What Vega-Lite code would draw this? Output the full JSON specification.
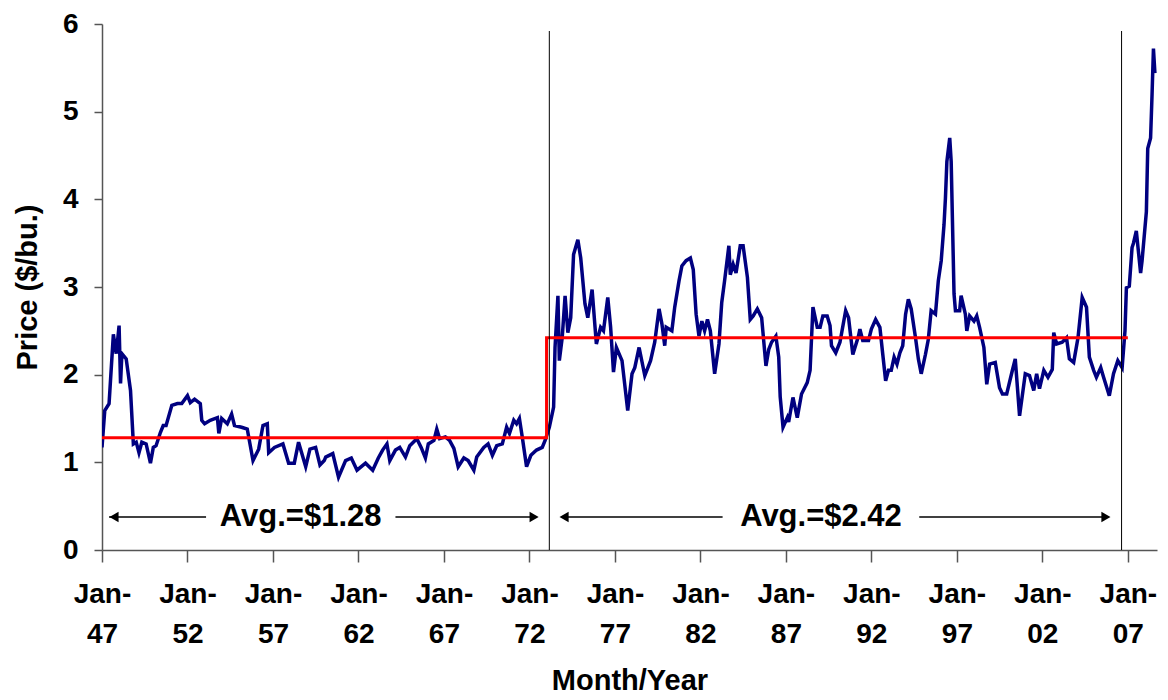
{
  "$schema": "https://vega.github.io/schema/vega-lite/v6.json",
  "width": 1055,
  "height": 526,
  "autosize": {"type": "none"},
  "padding": {"left": 102, "top": 24, "right": 11, "bottom": 150},
  "background": "white",
  "config": {
    "view": {"stroke": null},
    "font": "Liberation Sans"
  },
  "datasets": {
    "price": [
      {"date": "1947-01-01", "value": 1.17},
      {"date": "1947-03-01", "value": 1.59},
      {"date": "1947-06-01", "value": 1.67},
      {"date": "1947-07-01", "value": 1.93},
      {"date": "1947-09-01", "value": 2.46},
      {"date": "1947-11-01", "value": 2.24},
      {"date": "1948-01-01", "value": 2.56},
      {"date": "1948-02-01", "value": 1.90},
      {"date": "1948-03-01", "value": 2.24},
      {"date": "1948-06-01", "value": 2.18},
      {"date": "1948-09-01", "value": 1.82},
      {"date": "1948-11-01", "value": 1.21},
      {"date": "1949-01-01", "value": 1.23},
      {"date": "1949-03-01", "value": 1.11},
      {"date": "1949-05-01", "value": 1.23},
      {"date": "1949-08-01", "value": 1.21},
      {"date": "1949-11-01", "value": 0.99},
      {"date": "1950-01-01", "value": 1.17},
      {"date": "1950-03-01", "value": 1.19},
      {"date": "1950-06-01", "value": 1.34},
      {"date": "1950-08-01", "value": 1.42},
      {"date": "1950-10-01", "value": 1.42},
      {"date": "1951-02-01", "value": 1.65},
      {"date": "1951-06-01", "value": 1.67},
      {"date": "1951-09-01", "value": 1.67},
      {"date": "1952-01-01", "value": 1.76},
      {"date": "1952-03-01", "value": 1.68},
      {"date": "1952-06-01", "value": 1.72},
      {"date": "1952-10-01", "value": 1.67},
      {"date": "1952-11-01", "value": 1.48},
      {"date": "1953-01-01", "value": 1.44},
      {"date": "1953-05-01", "value": 1.48},
      {"date": "1953-10-01", "value": 1.51},
      {"date": "1953-11-01", "value": 1.33},
      {"date": "1954-01-01", "value": 1.50},
      {"date": "1954-05-01", "value": 1.44},
      {"date": "1954-08-01", "value": 1.55},
      {"date": "1954-10-01", "value": 1.42},
      {"date": "1955-03-01", "value": 1.40},
      {"date": "1955-07-01", "value": 1.38},
      {"date": "1955-11-01", "value": 1.02},
      {"date": "1956-03-01", "value": 1.15},
      {"date": "1956-06-01", "value": 1.42},
      {"date": "1956-09-01", "value": 1.44},
      {"date": "1956-10-01", "value": 1.11},
      {"date": "1957-02-01", "value": 1.17},
      {"date": "1957-08-01", "value": 1.21},
      {"date": "1957-12-01", "value": 0.99},
      {"date": "1958-04-01", "value": 0.99},
      {"date": "1958-07-01", "value": 1.23},
      {"date": "1958-12-01", "value": 0.95},
      {"date": "1959-03-01", "value": 1.15},
      {"date": "1959-07-01", "value": 1.17},
      {"date": "1959-10-01", "value": 0.97},
      {"date": "1960-01-01", "value": 1.02},
      {"date": "1960-02-01", "value": 1.06},
      {"date": "1960-07-01", "value": 1.10},
      {"date": "1960-11-01", "value": 0.83},
      {"date": "1961-04-01", "value": 1.02},
      {"date": "1961-08-01", "value": 1.05},
      {"date": "1961-12-01", "value": 0.91},
      {"date": "1962-06-01", "value": 0.99},
      {"date": "1962-11-01", "value": 0.91},
      {"date": "1963-03-01", "value": 1.05},
      {"date": "1963-06-01", "value": 1.14},
      {"date": "1963-09-01", "value": 1.21},
      {"date": "1963-11-01", "value": 1.02},
      {"date": "1964-03-01", "value": 1.14},
      {"date": "1964-06-01", "value": 1.17},
      {"date": "1964-10-01", "value": 1.06},
      {"date": "1965-01-01", "value": 1.19},
      {"date": "1965-06-01", "value": 1.27},
      {"date": "1965-09-01", "value": 1.17},
      {"date": "1965-12-01", "value": 1.05},
      {"date": "1966-02-01", "value": 1.21},
      {"date": "1966-06-01", "value": 1.25},
      {"date": "1966-08-01", "value": 1.38},
      {"date": "1966-10-01", "value": 1.27},
      {"date": "1967-02-01", "value": 1.29},
      {"date": "1967-05-01", "value": 1.25},
      {"date": "1967-08-01", "value": 1.16},
      {"date": "1967-11-01", "value": 0.95},
      {"date": "1968-03-01", "value": 1.05},
      {"date": "1968-06-01", "value": 1.02},
      {"date": "1968-10-01", "value": 0.91},
      {"date": "1968-12-01", "value": 1.06},
      {"date": "1969-05-01", "value": 1.17},
      {"date": "1969-08-01", "value": 1.21},
      {"date": "1969-11-01", "value": 1.08},
      {"date": "1970-02-01", "value": 1.19},
      {"date": "1970-06-01", "value": 1.21},
      {"date": "1970-09-01", "value": 1.40},
      {"date": "1970-11-01", "value": 1.33},
      {"date": "1971-02-01", "value": 1.48},
      {"date": "1971-04-01", "value": 1.44},
      {"date": "1971-06-01", "value": 1.50},
      {"date": "1971-08-01", "value": 1.29},
      {"date": "1971-11-01", "value": 0.95},
      {"date": "1972-02-01", "value": 1.08},
      {"date": "1972-06-01", "value": 1.14},
      {"date": "1972-10-01", "value": 1.17},
      {"date": "1972-12-01", "value": 1.25},
      {"date": "1973-03-01", "value": 1.40},
      {"date": "1973-06-01", "value": 1.63},
      {"date": "1973-07-01", "value": 2.31},
      {"date": "1973-09-01", "value": 2.90},
      {"date": "1973-10-01", "value": 2.16},
      {"date": "1973-12-01", "value": 2.42},
      {"date": "1974-02-01", "value": 2.90},
      {"date": "1974-04-01", "value": 2.48},
      {"date": "1974-06-01", "value": 2.65},
      {"date": "1974-08-01", "value": 3.37},
      {"date": "1974-11-01", "value": 3.54},
      {"date": "1975-01-01", "value": 3.33},
      {"date": "1975-04-01", "value": 2.81},
      {"date": "1975-06-01", "value": 2.65},
      {"date": "1975-09-01", "value": 2.97},
      {"date": "1975-12-01", "value": 2.35},
      {"date": "1976-03-01", "value": 2.54},
      {"date": "1976-05-01", "value": 2.50},
      {"date": "1976-08-01", "value": 2.88},
      {"date": "1976-10-01", "value": 2.54},
      {"date": "1976-12-01", "value": 2.03},
      {"date": "1977-02-01", "value": 2.31},
      {"date": "1977-06-01", "value": 2.16},
      {"date": "1977-10-01", "value": 1.59},
      {"date": "1978-01-01", "value": 2.01},
      {"date": "1978-03-01", "value": 2.08},
      {"date": "1978-06-01", "value": 2.31},
      {"date": "1978-10-01", "value": 1.99},
      {"date": "1979-02-01", "value": 2.16},
      {"date": "1979-05-01", "value": 2.37},
      {"date": "1979-08-01", "value": 2.75},
      {"date": "1979-10-01", "value": 2.58},
      {"date": "1979-12-01", "value": 2.33},
      {"date": "1980-01-01", "value": 2.54},
      {"date": "1980-05-01", "value": 2.50},
      {"date": "1980-07-01", "value": 2.77},
      {"date": "1980-10-01", "value": 3.07},
      {"date": "1980-12-01", "value": 3.24},
      {"date": "1981-03-01", "value": 3.30},
      {"date": "1981-06-01", "value": 3.33},
      {"date": "1981-08-01", "value": 3.20},
      {"date": "1981-10-01", "value": 2.69},
      {"date": "1981-12-01", "value": 2.44},
      {"date": "1982-02-01", "value": 2.61},
      {"date": "1982-04-01", "value": 2.50},
      {"date": "1982-06-01", "value": 2.63},
      {"date": "1982-08-01", "value": 2.50},
      {"date": "1982-11-01", "value": 2.01},
      {"date": "1983-02-01", "value": 2.35},
      {"date": "1983-04-01", "value": 2.82},
      {"date": "1983-06-01", "value": 3.07},
      {"date": "1983-09-01", "value": 3.47},
      {"date": "1983-10-01", "value": 3.14},
      {"date": "1983-12-01", "value": 3.26},
      {"date": "1984-02-01", "value": 3.16},
      {"date": "1984-05-01", "value": 3.47},
      {"date": "1984-07-01", "value": 3.47},
      {"date": "1984-10-01", "value": 3.11},
      {"date": "1984-12-01", "value": 2.63},
      {"date": "1985-02-01", "value": 2.67},
      {"date": "1985-05-01", "value": 2.75},
      {"date": "1985-08-01", "value": 2.65},
      {"date": "1985-11-01", "value": 2.10},
      {"date": "1986-01-01", "value": 2.29},
      {"date": "1986-03-01", "value": 2.37},
      {"date": "1986-06-01", "value": 2.44},
      {"date": "1986-08-01", "value": 2.20},
      {"date": "1986-09-01", "value": 1.75},
      {"date": "1986-11-01", "value": 1.40},
      {"date": "1987-02-01", "value": 1.51},
      {"date": "1987-03-01", "value": 1.46},
      {"date": "1987-06-01", "value": 1.74},
      {"date": "1987-09-01", "value": 1.51},
      {"date": "1987-12-01", "value": 1.78},
      {"date": "1988-04-01", "value": 1.91},
      {"date": "1988-06-01", "value": 2.05},
      {"date": "1988-08-01", "value": 2.77},
      {"date": "1988-11-01", "value": 2.54},
      {"date": "1989-01-01", "value": 2.54},
      {"date": "1989-03-01", "value": 2.67},
      {"date": "1989-06-01", "value": 2.67},
      {"date": "1989-08-01", "value": 2.56},
      {"date": "1989-09-01", "value": 2.33},
      {"date": "1989-12-01", "value": 2.25},
      {"date": "1990-03-01", "value": 2.37},
      {"date": "1990-07-01", "value": 2.73},
      {"date": "1990-09-01", "value": 2.65},
      {"date": "1990-12-01", "value": 2.23},
      {"date": "1991-04-01", "value": 2.44},
      {"date": "1991-05-01", "value": 2.52},
      {"date": "1991-07-01", "value": 2.39},
      {"date": "1991-11-01", "value": 2.39},
      {"date": "1992-01-01", "value": 2.52},
      {"date": "1992-04-01", "value": 2.63},
      {"date": "1992-07-01", "value": 2.54},
      {"date": "1992-09-01", "value": 2.23},
      {"date": "1992-11-01", "value": 1.93},
      {"date": "1993-01-01", "value": 2.05},
      {"date": "1993-03-01", "value": 2.05},
      {"date": "1993-05-01", "value": 2.20},
      {"date": "1993-07-01", "value": 2.12},
      {"date": "1993-09-01", "value": 2.25},
      {"date": "1993-11-01", "value": 2.33},
      {"date": "1994-01-01", "value": 2.69},
      {"date": "1994-03-01", "value": 2.86},
      {"date": "1994-05-01", "value": 2.75},
      {"date": "1994-08-01", "value": 2.42},
      {"date": "1994-10-01", "value": 2.18},
      {"date": "1994-12-01", "value": 2.01},
      {"date": "1995-03-01", "value": 2.23},
      {"date": "1995-05-01", "value": 2.40},
      {"date": "1995-07-01", "value": 2.73},
      {"date": "1995-10-01", "value": 2.69},
      {"date": "1995-12-01", "value": 3.07},
      {"date": "1996-02-01", "value": 3.30},
      {"date": "1996-04-01", "value": 3.71},
      {"date": "1996-05-01", "value": 4.01},
      {"date": "1996-06-01", "value": 4.43},
      {"date": "1996-08-01", "value": 4.70},
      {"date": "1996-09-01", "value": 4.43},
      {"date": "1996-11-01", "value": 2.92},
      {"date": "1996-12-01", "value": 2.73},
      {"date": "1997-03-01", "value": 2.73},
      {"date": "1997-04-01", "value": 2.90},
      {"date": "1997-07-01", "value": 2.69},
      {"date": "1997-08-01", "value": 2.50},
      {"date": "1997-10-01", "value": 2.67},
      {"date": "1998-01-01", "value": 2.61},
      {"date": "1998-03-01", "value": 2.67},
      {"date": "1998-05-01", "value": 2.54},
      {"date": "1998-08-01", "value": 2.31},
      {"date": "1998-10-01", "value": 1.89},
      {"date": "1998-12-01", "value": 2.12},
      {"date": "1999-04-01", "value": 2.14},
      {"date": "1999-07-01", "value": 1.85},
      {"date": "1999-09-01", "value": 1.78},
      {"date": "1999-12-01", "value": 1.78},
      {"date": "2000-04-01", "value": 2.05},
      {"date": "2000-06-01", "value": 2.18},
      {"date": "2000-09-01", "value": 1.53},
      {"date": "2001-01-01", "value": 2.01},
      {"date": "2001-04-01", "value": 1.99},
      {"date": "2001-07-01", "value": 1.82},
      {"date": "2001-09-01", "value": 2.01},
      {"date": "2001-11-01", "value": 1.84},
      {"date": "2002-02-01", "value": 2.05},
      {"date": "2002-05-01", "value": 1.97},
      {"date": "2002-08-01", "value": 2.06},
      {"date": "2002-09-01", "value": 2.48},
      {"date": "2002-11-01", "value": 2.35},
      {"date": "2003-03-01", "value": 2.37},
      {"date": "2003-06-01", "value": 2.42},
      {"date": "2003-08-01", "value": 2.18},
      {"date": "2003-11-01", "value": 2.14},
      {"date": "2004-02-01", "value": 2.42},
      {"date": "2004-05-01", "value": 2.88},
      {"date": "2004-08-01", "value": 2.77},
      {"date": "2004-10-01", "value": 2.20},
      {"date": "2005-01-01", "value": 2.05},
      {"date": "2005-03-01", "value": 1.97},
      {"date": "2005-06-01", "value": 2.08},
      {"date": "2005-08-01", "value": 1.97},
      {"date": "2005-12-01", "value": 1.76},
      {"date": "2006-03-01", "value": 2.01},
      {"date": "2006-06-01", "value": 2.16},
      {"date": "2006-09-01", "value": 2.08},
      {"date": "2006-11-01", "value": 2.50},
      {"date": "2006-12-01", "value": 2.99},
      {"date": "2007-02-01", "value": 3.01},
      {"date": "2007-04-01", "value": 3.45},
      {"date": "2007-05-01", "value": 3.50},
      {"date": "2007-07-01", "value": 3.64},
      {"date": "2007-10-01", "value": 3.16},
      {"date": "2007-11-01", "value": 3.30},
      {"date": "2008-02-01", "value": 3.86},
      {"date": "2008-03-01", "value": 4.58},
      {"date": "2008-05-01", "value": 4.70},
      {"date": "2008-06-01", "value": 5.19},
      {"date": "2008-07-01", "value": 5.72},
      {"date": "2008-08-01", "value": 5.44}
    ],
    "avg": [
      {"date": "1947-01-01", "value": 1.28},
      {"date": "1973-01-01", "value": 2.42},
      {"date": "2007-01-01", "value": 2.42}
    ],
    "dividers": [
      {"date": "1973-03-01", "lo": 0, "hi": 5.92},
      {"date": "2006-08-20", "lo": 0, "hi": 5.92}
    ],
    "arrowLines": [
      {"date": "1947-06-01", "date2": "1953-02-01", "value": 0.376},
      {"date": "1964-03-01", "date2": "1972-05-01", "value": 0.376},
      {"date": "1974-02-01", "date2": "1983-04-20", "value": 0.376},
      {"date": "1994-10-20", "date2": "2005-09-20", "value": 0.376}
    ],
    "arrowHeads": [
      {"date": "1947-09-15", "value": 0.376, "dir": "triangle-left"},
      {"date": "1972-04-10", "value": 0.376, "dir": "triangle-right"},
      {"date": "1974-01-10", "value": 0.376, "dir": "triangle-left"},
      {"date": "2005-09-20", "value": 0.376, "dir": "triangle-right"}
    ],
    "labels": [
      {"date": "1958-08-15", "value": 0.376, "label": "Avg.=$1.28"},
      {"date": "1989-01-20", "value": 0.376, "label": "Avg.=$2.42"}
    ]
  },
  "layer": [
    {
      "data": {"name": "price"},
      "mark": {"type": "line", "color": "#000080", "strokeWidth": 3.5, "clip": true},
      "encoding": {
        "x": {
          "field": "date", "type": "temporal",
          "scale": {"type": "utc", "domain": [{"year": 1947, "month": 1, "date": 1, "utc": true}, {"year": 2008, "month": 9, "date": 15, "utc": true}]},
          "axis": {
            "title": "Month/Year",
            "titleFont": "Liberation Sans", "titleFontSize": 29, "titleFontWeight": "bold", "titleColor": "black", "titlePadding": 18,
            "values": [
              {"year": 1947, "month": 1, "date": 1, "utc": true},
              {"year": 1952, "month": 1, "date": 1, "utc": true},
              {"year": 1957, "month": 1, "date": 1, "utc": true},
              {"year": 1962, "month": 1, "date": 1, "utc": true},
              {"year": 1967, "month": 1, "date": 1, "utc": true},
              {"year": 1972, "month": 1, "date": 1, "utc": true},
              {"year": 1977, "month": 1, "date": 1, "utc": true},
              {"year": 1982, "month": 1, "date": 1, "utc": true},
              {"year": 1987, "month": 1, "date": 1, "utc": true},
              {"year": 1992, "month": 1, "date": 1, "utc": true},
              {"year": 1997, "month": 1, "date": 1, "utc": true},
              {"year": 2002, "month": 1, "date": 1, "utc": true},
              {"year": 2007, "month": 1, "date": 1, "utc": true}
            ],
            "labelExpr": "['Jan-', utcFormat(datum.value, '%y')]",
            "labelFont": "Liberation Sans", "labelFontSize": 28, "labelFontWeight": "bold", "labelColor": "black",
            "labelLineHeight": 40, "labelPadding": 18, "labelOverlap": false, "labelFlush": false,
            "grid": false, "domainColor": "#555555", "domainWidth": 1.5, "tickColor": "#555555", "tickWidth": 1.5, "tickSize": 12
          }
        },
        "y": {
          "field": "value", "type": "quantitative",
          "scale": {"domain": [0, 6], "nice": false, "zero": true},
          "axis": {
            "title": "Price ($/bu.)",
            "titleFont": "Liberation Sans", "titleFontSize": 29, "titleFontWeight": "bold", "titleColor": "black", "titlePadding": 20,
            "values": [0, 1, 2, 3, 4, 5, 6], "format": "d",
            "labelFont": "Liberation Sans", "labelFontSize": 28, "labelFontWeight": "bold", "labelColor": "black", "labelPadding": 16,
            "grid": false, "domainColor": "#555555", "domainWidth": 1.5, "tickColor": "#555555", "tickWidth": 1.5, "tickSize": 8
          }
        }
      }
    },
    {
      "data": {"name": "avg"},
      "mark": {"type": "line", "color": "#ff0000", "strokeWidth": 3, "interpolate": "step-after"},
      "encoding": {
        "x": {"field": "date", "type": "temporal"},
        "y": {"field": "value", "type": "quantitative"}
      }
    },
    {
      "data": {"name": "dividers"},
      "mark": {"type": "rule", "color": "black", "strokeWidth": 1},
      "encoding": {
        "x": {"field": "date", "type": "temporal"},
        "y": {"field": "lo", "type": "quantitative"},
        "y2": {"field": "hi"}
      }
    },
    {
      "data": {"name": "arrowLines"},
      "mark": {"type": "rule", "color": "black", "strokeWidth": 1.5},
      "encoding": {
        "x": {"field": "date", "type": "temporal"},
        "x2": {"field": "date2"},
        "y": {"field": "value", "type": "quantitative"}
      }
    },
    {
      "data": {"name": "arrowHeads"},
      "mark": {"type": "point", "filled": true, "color": "black", "size": 110, "opacity": 1},
      "encoding": {
        "x": {"field": "date", "type": "temporal"},
        "y": {"field": "value", "type": "quantitative"},
        "shape": {"field": "dir", "type": "nominal", "scale": null, "legend": null}
      }
    },
    {
      "data": {"name": "labels"},
      "mark": {"type": "text", "font": "Liberation Sans", "fontSize": 31, "fontWeight": "bold", "color": "black", "align": "center", "baseline": "middle"},
      "encoding": {
        "x": {"field": "date", "type": "temporal"},
        "y": {"field": "value", "type": "quantitative"},
        "text": {"field": "label", "type": "nominal"}
      }
    }
  ]
}
